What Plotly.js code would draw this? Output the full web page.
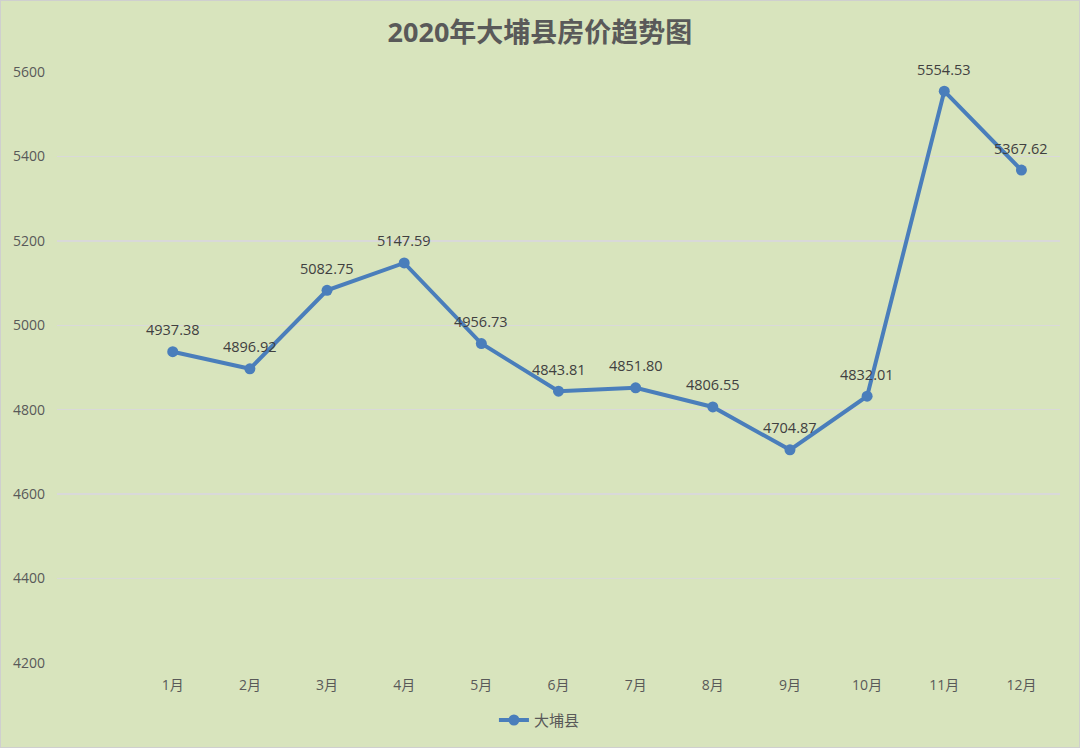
<!DOCTYPE html>
<html><head><meta charset="utf-8">
<script src="https://cdn.plot.ly/plotly-3.0.1.min.js"></script>
<style>
html,body{margin:0;padding:0;background:#d8e4bd;}
#wrap{position:relative;width:1080px;height:748px;}
#chart{width:1080px;height:748px;}
#frame{position:absolute;left:0;top:0;width:1078px;height:746px;border:1px solid #cfcfcf;pointer-events:none;}
</style></head>
<body>
<div id="wrap"><div id="chart"></div><div id="frame"></div></div>
<script>
const chartTitle = "2020年大埔县房价趋势图";
const seriesName = "大埔县";
const months = ["1月","2月","3月","4月","5月","6月","7月","8月","9月","10月","11月","12月"];
const prices = [4937.38, 4896.92, 5082.75, 5147.59, 4956.73, 4843.81, 4851.80, 4806.55, 4704.87, 4832.01, 5554.53, 5367.62];
const yTicks = [4200, 4400, 4600, 4800, 5000, 5200, 5400, 5600];

const xPos = months.map((m, i) => i + 1);
const fontFam = "'Open Sans', 'Noto Sans CJK SC', sans-serif";

const trace = {
  x: xPos, y: prices, name: seriesName,
  type: 'scatter', mode: 'lines+markers',
  line: {color: '#4a7ebb', width: 4},
  marker: {color: '#4a7ebb', size: 11},
  cliponaxis: false
};

const labels = prices.map((v, i) => ({
  x: xPos[i], y: v, xref: 'x', yref: 'y', text: v.toFixed(2), showarrow: false,
  yshift: 22, font: {family: fontFam, size: 14.5, color: '#404040'}
}));

const layout = {
  width: 1080, height: 748,
  paper_bgcolor: '#d8e4bd', plot_bgcolor: '#d8e4bd',
  margin: {l: 57, r: 20, t: 72, b: 84},
  title: {text: '<b>' + chartTitle + '</b>', x: 0.5, xanchor: 'center', y: 0.957, yanchor: 'middle',
          font: {family: fontFam, size: 27, color: '#595959'}},
  xaxis: {range: [-0.5, 12.5], tickvals: xPos, ticktext: months, showgrid: false, zeroline: false,
          showline: false, ticks: '', ticklabelstandoff: 12,
          tickfont: {family: fontFam, size: 14, color: '#595959'}, fixedrange: true},
  yaxis: {range: [4200, 5600], tickvals: yTicks, ticktext: yTicks.map(String), showgrid: true, gridcolor: '#d9d9d9', gridwidth: 1.5,
          zeroline: false, showline: false, ticks: '', ticklabelstandoff: 11,
          tickfont: {family: fontFam, size: 14, color: '#595959'}, fixedrange: true},
  annotations: labels,
  showlegend: true,
  legend: {orientation: 'h', x: 0.481, xanchor: 'center', y: -0.095, yanchor: 'middle',
           font: {family: fontFam, size: 15, color: '#595959'}, bgcolor: 'rgba(0,0,0,0)'}
};

Plotly.newPlot('chart', [trace], layout, {displayModeBar: false, staticPlot: true});
</script>
</body></html>
